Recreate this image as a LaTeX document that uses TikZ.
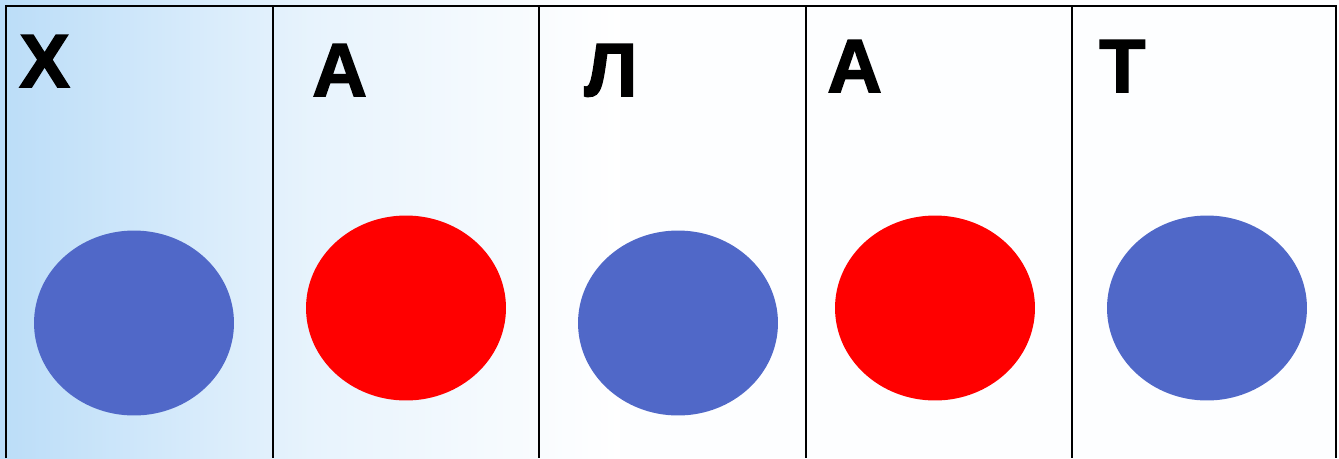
\documentclass[tikz,border=0pt]{standalone}
\usepackage{fontspec}
\setmainfont{Liberation Sans}
\newfontfamily\heavyfont[FakeBold=2]{Liberation Sans Bold}
\usetikzlibrary{shapes.geometric,positioning}
\definecolor{dotblue}{HTML}{5068C8}
\definecolor{dotred}{HTML}{FF0000}
\definecolor{skyblue}{HTML}{BBDDF8}
\tikzset{
  dot/.style={
    shape = ellipse,
    minimum width = 4cm,
    minimum height = 3.7cm,
    inner sep = 0pt
  },
  bluedot/.style={dot, fill = dotblue},
  reddot/.style={dot, fill = dotred},
  letter/.style={
    anchor = base west,
    inner sep = 0pt,
    font = \fontsize{43}{43}\heavyfont
  },
  grid/.style={
    line width = 1.6pt,
    draw = black
  }
}
\begin{document}
\begin{tikzpicture}[x=0.02cm, y=-0.02cm]
  \useasboundingbox (0,0) rectangle (1339,458);
  \shade[left color=skyblue, right color=white, middle color=skyblue!35] (0,0) rectangle (620,458);
  \fill[white!97!skyblue] (620,0) rectangle (1339,458);

  % columns
  \draw[grid] (6,458) -- (6,6) -- (1336,6) -- (1336,458);
  \draw[grid] (273,6) -- (273,458);
  \draw[grid] (539,6) -- (539,458);
  \draw[grid] (806,6) -- (806,458);
  \draw[grid] (1072,6) -- (1072,458);

  % letters
  \node[letter] (l1) at (19,87) {Х};
  \node[letter] (l2) at (312,96) {А};
  \node[letter] (l3) at (584,96) {Л};
  \node[letter] (l4) at (827,92) {А};
  \node[letter] (l5) at (1099,92) {Т};

  % circles
  \node[bluedot] (c1) at (134,323) {};
  \node[reddot]  (c2) at (406,308) {};
  \node[bluedot] (c3) at (678,323) {};
  \node[reddot]  (c4) at (935,308) {};
  \node[bluedot] (c5) at (1207,308) {};
\end{tikzpicture}
\end{document}
